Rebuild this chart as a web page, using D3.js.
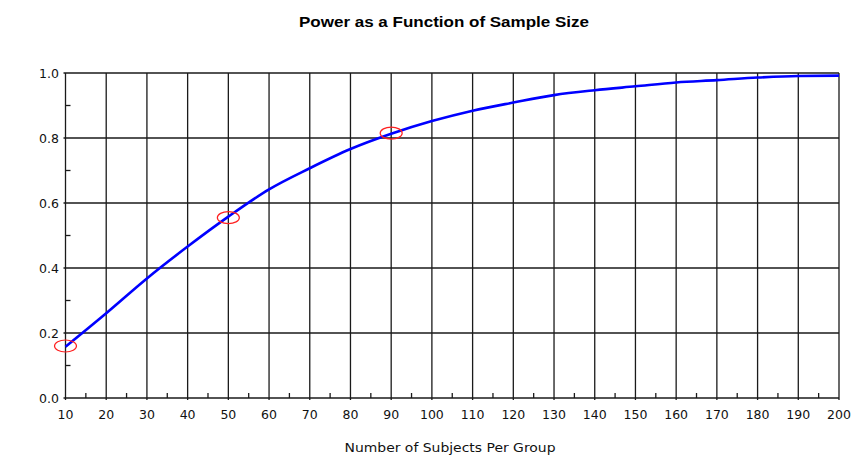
<!DOCTYPE html>
<html><head><meta charset="utf-8">
<script src="https://cdn.jsdelivr.net/npm/d3@7"></script>
<style>body{margin:0;background:#fff}svg{display:block}</style>
</head><body>
<svg id="c" width="864" height="458"></svg>
<script>
const sampleSizes = [10,20,30,40,50,60,70,80,90,100,110,120,130,140,150,160,170,180,190,200];
const powerValues = [0.158,0.261,0.368,0.466,0.558,0.642,0.707,0.766,0.813,0.852,0.884,0.909,0.932,0.947,0.959,0.971,0.978,0.986,0.991,0.992];
const markedN = [10,50,90];
const markedPower = [0.16,0.555,0.815];
const xTicks = [10,20,30,40,50,60,70,80,90,100,110,120,130,140,150,160,170,180,190,200];
const yTicks = [0.0,0.2,0.4,0.6,0.8,1.0];
const title = "Power as a Function of Sample Size";
const xLabel = "Number of Subjects Per Group";

const svg = d3.select("#c");
const x = d3.scaleLinear().domain([10,200]).range([65.5,839]);
const y = d3.scaleLinear().domain([0,1]).range([398,73]);
const gridColor = "#1a1a1a";

const g = svg.append("g");
g.selectAll("line.v").data(xTicks).join("line")
  .attr("x1",d=>x(d)).attr("x2",d=>x(d))
  .attr("y1",y(1)).attr("y2",y(0)+2)
  .attr("stroke",gridColor).attr("stroke-width",1.3);
g.selectAll("line.h").data(yTicks).join("line")
  .attr("x1",x(10)-2).attr("x2",x(200))
  .attr("y1",d=>y(d)).attr("y2",d=>y(d))
  .attr("stroke",gridColor).attr("stroke-width",1.3);
const xMinor = d3.range(15,200,10);
g.selectAll("line.xm").data(xMinor).join("line")
  .attr("x1",d=>x(d)).attr("x2",d=>x(d))
  .attr("y1",y(0)).attr("y2",y(0)-5)
  .attr("stroke",gridColor).attr("stroke-width",1.3);
const yMinor = [0.1,0.3,0.5,0.7,0.9];
g.selectAll("line.ym").data(yMinor).join("line")
  .attr("x1",x(10)).attr("x2",x(10)+5)
  .attr("y1",d=>y(d)).attr("y2",d=>y(d))
  .attr("stroke",gridColor).attr("stroke-width",1.3);

const fontFam = "'DejaVu Sans', Verdana, sans-serif";
svg.append("g").selectAll("text").data(xTicks).join("text")
  .attr("x",d=>x(d)).attr("y",419)
  .attr("text-anchor","middle").attr("font-family",fontFam).attr("font-size",12.5)
  .attr("fill","#111").text(d=>d);
svg.append("g").selectAll("text").data(yTicks).join("text")
  .attr("x",59).attr("y",d=>y(d)+4.5)
  .attr("text-anchor","end").attr("font-family",fontFam).attr("font-size",12.5)
  .attr("fill","#111").text(d=>d.toFixed(1));

const line = d3.line().x((d,i)=>x(sampleSizes[i])).y(d=>y(d)).curve(d3.curveMonotoneX);
svg.append("path").datum(powerValues).attr("d",line)
  .attr("fill","none").attr("stroke","#0000ff").attr("stroke-width",2.6)
  .attr("stroke-linejoin","round");

svg.append("g").selectAll("ellipse").data(markedN).join("ellipse")
  .attr("cx",d=>x(d)).attr("cy",(d,i)=>y(markedPower[i]))
  .attr("rx",11).attr("ry",6)
  .attr("fill","none").attr("stroke","#ff2020").attr("stroke-width",1.2);

svg.append("text").attr("x",444).attr("y",27).attr("text-anchor","middle")
  .attr("font-family","'Liberation Sans', Arial, sans-serif").attr("font-weight","bold").attr("font-size",14)
  .attr("textLength",290).attr("lengthAdjust","spacingAndGlyphs")
  .text(title);
svg.append("text").attr("x",450).attr("y",452).attr("text-anchor","middle")
  .attr("font-family",fontFam).attr("font-size",12.5).attr("fill","#111")
  .attr("textLength",211).attr("lengthAdjust","spacingAndGlyphs")
  .text(xLabel);
</script>
</body></html>
